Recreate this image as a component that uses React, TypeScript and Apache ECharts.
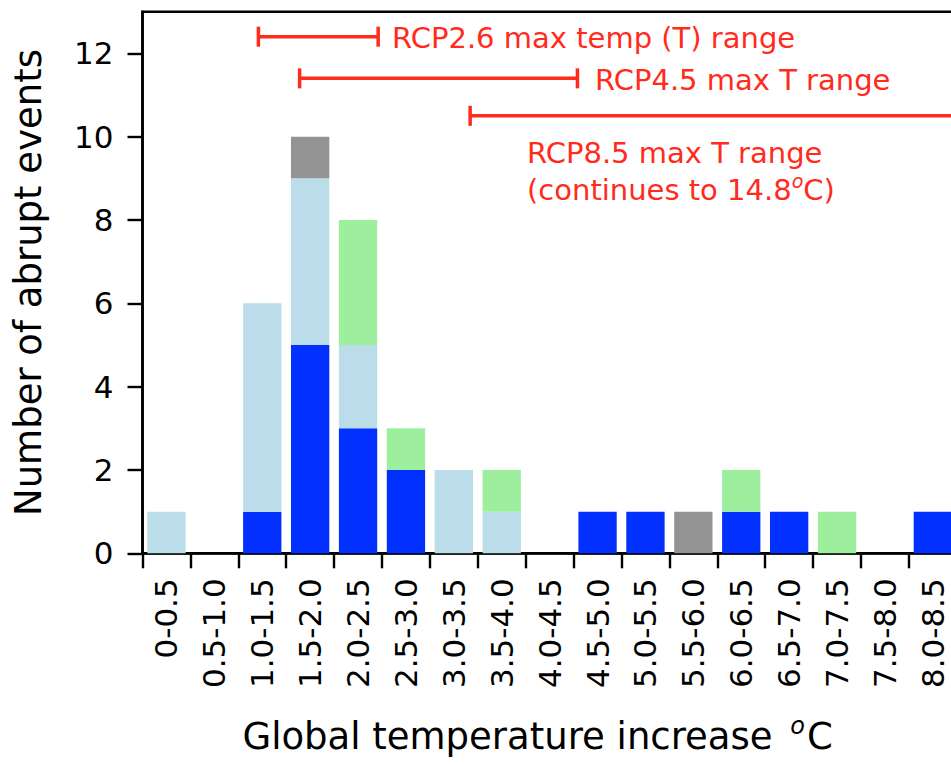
import React, { useEffect, useRef } from "react";
import * as echarts from "echarts";

// Temperature bins (0.5 °C wide)
const binLabels = [
  "0-0.5", "0.5-1.0", "1.0-1.5", "1.5-2.0", "2.0-2.5", "2.5-3.0",
  "3.0-3.5", "3.5-4.0", "4.0-4.5", "4.5-5.0", "5.0-5.5", "5.5-6.0",
  "6.0-6.5", "6.5-7.0", "7.0-7.5", "7.5-8.0", "8.0-8.5",
];

// Event counts per bin, stacked bottom to top
const blueCounts = [0, 0, 1, 5, 3, 2, 0, 0, 0, 1, 1, 0, 1, 1, 0, 0, 1];
const lightBlueCounts = [1, 0, 5, 4, 2, 0, 2, 1, 0, 0, 0, 0, 0, 0, 0, 0, 0];
const greenCounts = [0, 0, 0, 0, 3, 1, 0, 1, 0, 0, 0, 0, 1, 0, 1, 0, 0];
const grayCounts = [0, 0, 0, 1, 0, 0, 0, 0, 0, 0, 0, 1, 0, 0, 0, 0, 0];

// Y ticks
const yTicks = [0, 2, 4, 6, 8, 10, 12];

// Max temperature ranges per scenario (°C) and the count level they are drawn at
const rangeNames = ["RCP2.6", "RCP4.5", "RCP8.5"];
const rangeStart = [1.21, 1.64, 3.42];
const rangeEnd = [2.46, 4.54, 14.8];
const rangeLevel = [12.4, 11.4, 10.5];

const FONT = "DejaVu Sans";
const RED = "#ff2b1c";

export default function App() {
  const ref = useRef<HTMLDivElement>(null);

  useEffect(() => {
    if (!ref.current) return;
    const chart = echarts.init(ref.current, undefined, { renderer: "svg" });

    const barSeries = [
      { name: "blue", data: blueCounts, color: "#0130ff" },
      { name: "lightblue", data: lightBlueCounts, color: "#badde9" },
      { name: "lightgreen", data: greenCounts, color: "#9def9e" },
      { name: "gray", data: grayCounts, color: "#939393" },
    ].map((s) => ({
      type: "bar",
      name: s.name,
      stack: "total",
      xAxisIndex: 0,
      yAxisIndex: 0,
      barWidth: "80%",
      // empty bins draw nothing
      data: s.data.map((v) => (v === 0 ? "-" : v)),
      itemStyle: { color: s.color },
    }));

    const rangeData = rangeNames.map((n, i) => ({
      name: n,
      value: [rangeStart[i], rangeEnd[i], rangeLevel[i]],
    }));

    const capHalf = 10;

    const option = {
      animation: false,
      backgroundColor: "#ffffff",
      grid: {
        left: 142.5,
        top: 11.7,
        width: binLabels.length * 47.9,
        height: 541.6,
        outerBoundsMode: "none",
        containLabel: false,
        show: true,
        borderColor: "#000",
        borderWidth: 2.6,
        backgroundColor: "transparent",
      },
      xAxis: [
        {
          type: "category",
          data: binLabels,
          boundaryGap: true,
          axisLine: { show: true, lineStyle: { color: "#000", width: 2.6 } },
          axisTick: {
            show: true,
            length: 15,
            alignWithLabel: false,
            interval: 0,
            lineStyle: { color: "#000", width: 2.4 },
          },
          axisLabel: {
            interval: 0,
            rotate: 90,
            margin: 25,
            fontSize: 31,
            fontFamily: FONT,
            color: "#000",
          },
          splitLine: { show: false },
          name: "Global temperature increase {sup|o}C",
          nameLocation: "middle",
          nameGap: 161,
          nameTextStyle: {
            fontSize: 37,
            fontFamily: FONT,
            color: "#000",
            lineHeight: 44,
            padding: [0, 24, 0, 0],
            rich: {
              sup: {
                fontSize: 24,
                fontStyle: "italic",
                fontFamily: FONT,
                color: "#000",
                verticalAlign: "top",
                lineHeight: 24,
                padding: [0, 2, 0, 6],
              },
            },
          },
        },
        {
          type: "value",
          min: 0,
          max: binLabels.length * 0.5,
          show: false,
        },
      ],
      yAxis: {
        type: "value",
        min: 0,
        max: 13,
        interval: 2,
        axisLine: { show: true, lineStyle: { color: "#000", width: 2.6 } },
        axisTick: {
          show: true,
          length: 15,
          customValues: yTicks,
          lineStyle: { color: "#000", width: 2.4 },
        },
        axisLabel: {
          customValues: yTicks,
          margin: 29,
          fontSize: 31,
          fontFamily: FONT,
          color: "#000",
        },
        splitLine: { show: false },
        name: "Number of abrupt events",
        nameLocation: "middle",
        nameGap: 96,
        nameTextStyle: { fontSize: 37, fontFamily: FONT, color: "#000" },
      },
      series: [
        ...barSeries,
        {
          type: "custom",
          name: "ranges",
          xAxisIndex: 1,
          yAxisIndex: 0,
          silent: true,
          encode: { x: [0, 1], y: 2 },
          data: rangeData,
          renderItem: (params: any, api: any) => {
            const cs = params.coordSys;
            const right = cs.x + cs.width;
            const p0 = api.coord([api.value(0), api.value(2)]);
            const p1 = api.coord([api.value(1), api.value(2)]);
            const endX = Math.min(p1[0], right);
            const style = { stroke: RED, lineWidth: 3.5 };
            const children: any[] = [
              { type: "line", shape: { x1: p0[0], y1: p0[1], x2: endX, y2: p1[1] }, style },
              {
                type: "line",
                shape: { x1: p0[0], y1: p0[1] - capHalf, x2: p0[0], y2: p0[1] + capHalf },
                style,
              },
            ];
            if (p1[0] <= right) {
              children.push({
                type: "line",
                shape: { x1: p1[0], y1: p1[1] - capHalf, x2: p1[0], y2: p1[1] + capHalf },
                style,
              });
            }
            return { type: "group", children };
          },
        },
      ],
      graphic: [
        {
          type: "text",
          x: 392,
          y: 38,
          style: {
            text: "RCP2.6 max temp (T) range",
            fill: RED,
            fontSize: 29,
            fontFamily: FONT,
            align: "left",
            verticalAlign: "middle",
          },
        },
        {
          type: "text",
          x: 595,
          y: 80,
          style: {
            text: "RCP4.5 max T range",
            fill: RED,
            fontSize: 29,
            fontFamily: FONT,
            align: "left",
            verticalAlign: "middle",
          },
        },
        {
          type: "text",
          x: 527,
          y: 171,
          style: {
            text: "RCP8.5 max T range\n(continues to 14.8{sup|o}C)",
            fill: RED,
            fontSize: 29,
            fontFamily: FONT,
            lineHeight: 37,
            align: "left",
            verticalAlign: "middle",
            rich: {
              sup: {
                fill: RED,
                fontSize: 19,
                fontStyle: "italic",
                fontFamily: FONT,
                verticalAlign: "top",
                lineHeight: 24,
              },
            },
          },
        },
      ],
    };

    chart.setOption(option as any);
    return () => chart.dispose();
  }, []);

  return (
    <div
      ref={ref}
      style={{
        position: "absolute",
        left: 0,
        top: 0,
        width: 951,
        height: 764,
        overflow: "hidden",
        background: "#fff",
      }}
    />
  );
}
